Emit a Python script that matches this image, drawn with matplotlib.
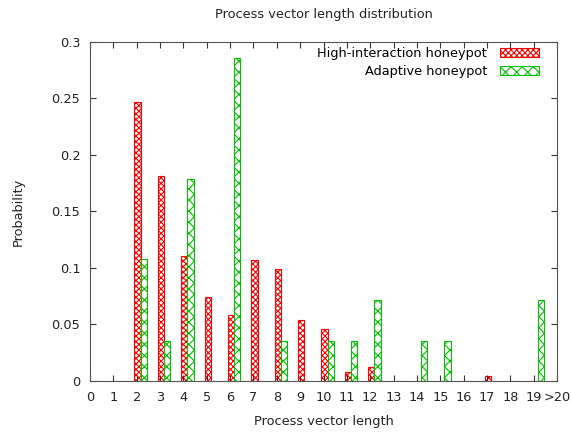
import numpy as np
import matplotlib.pyplot as plt

plt.rcParams['font.family'] = ['DejaVu Sans']
plt.rcParams['hatch.linewidth'] = 0.8

# Process vector length bins (">20" sits at 20)
lengths = np.arange(0, 21)
tick_labels = [str(i) for i in range(20)] + [">20"]

high_interaction = [0, 0, 0.247, 0.181, 0.111, 0.0743, 0.058, 0.1068, 0.0994, 0.0537,
                    0.0457, 0.0083, 0.0124, 0, 0, 0, 0, 0.0044, 0, 0, 0]
adaptive = [0, 0, 0.1077, 0.0357, 0.1786, 0, 0.2857, 0, 0.0357, 0,
            0.0357, 0.0357, 0.0714, 0, 0.0357, 0.0357, 0, 0, 0, 0.0714, 0]

red = "#ff0000"
green = "#00c000"
width = 0.27

fig = plt.figure(figsize=(5.71, 4.32), dpi=100)
ax = fig.add_axes([0.1576, 0.1181, 0.8179, 0.7847])

ax.bar(lengths + 0.04, high_interaction, width=width, facecolor="white",
       edgecolor=red, hatch="xxxxxx", linewidth=0.8, label="High-interaction honeypot")
ax.bar(lengths + 0.31, adaptive, width=width, facecolor="white",
       edgecolor=green, hatch="xxx", linewidth=0.8, label="Adaptive honeypot")

ax.set_xlim(0, 20)
ax.set_ylim(0, 0.3)
ax.set_xticks(lengths)
ax.set_xticklabels(tick_labels)
yt = [0, 0.05, 0.1, 0.15, 0.2, 0.25, 0.3]
ax.set_yticks(yt)
ax.set_yticklabels(["0", "0.05", "0.1", "0.15", "0.2", "0.25", "0.3"])
ax.tick_params(direction="in", top=True, right=True, length=4, labelsize=9.3,
               color="#333333", labelcolor="#222222", pad=7)
for s in ax.spines.values():
    s.set_color("#555555")

ax.set_title("Process vector length distribution", fontsize=9.3, color="#222222", pad=17)
ax.set_xlabel("Process vector length", fontsize=9.3, color="#222222", labelpad=8)
ax.set_ylabel("Probability", fontsize=9.3, color="#222222", labelpad=19)

ax.legend(loc="upper right", bbox_to_anchor=(0.972, 1.0), frameon=False, markerfirst=False,
          fontsize=9.3, handlelength=3.0, handleheight=0.7, borderaxespad=0.1,
          labelspacing=0.4, handletextpad=1.0, borderpad=0.3)

plt.savefig("out.png", dpi=100)
